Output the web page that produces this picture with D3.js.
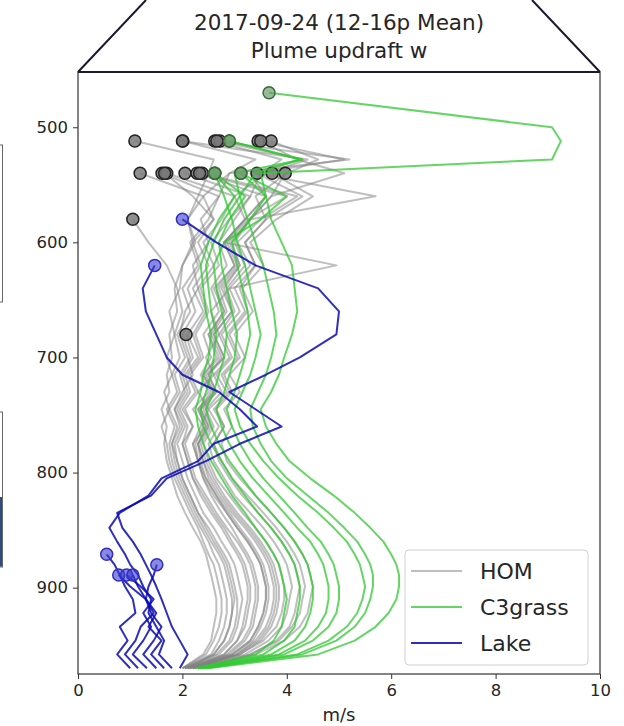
<!DOCTYPE html>
<html>
<head>
<meta charset="utf-8">
<script src="https://cdn.jsdelivr.net/npm/d3@7"></script>
<style>
  body { margin: 0; background: #fff; }
  text { font-family: "DejaVu Sans", sans-serif; fill: #262626; }
</style>
</head>
<body>
<svg id="chart" width="624" height="726"></svg>
<script>
// pressure levels (hPa), bottom of profile first
var levels = [970, 958, 946, 934, 922, 910, 899, 889, 880, 871, 860, 848, 835, 820, 805, 790, 775, 760,
              745, 730, 715, 700, 680, 660, 640, 620, 600, 580, 560, 540, 528, 512, 500, 470];

// plume updraft w (m/s) per level; last value is the plume top (marker)
var homProfiles = [
  [2.0, 2.4, 2.55, 2.6, 2.65, 2.65, 2.6, 2.55, 2.5, 2.45, 2.35, 2.2, 2.05, 1.9, 1.8, 1.7, 1.65, 1.7, 1.6, 1.75, 1.7, 1.8, 1.75, 1.9, 1.85, 2.0, 2.2, 2.1, 2.3, 2.5, 2.6, 1.09],
  [2.05, 2.6, 2.8, 2.9, 2.95, 2.95, 2.9, 2.85, 2.8, 2.7, 2.55, 2.4, 2.25, 2.1, 1.95, 1.85, 1.8, 1.95, 1.85, 2.0, 2.2, 2.1, 1.95, 2.05, 2.3, 2.2, 2.5, 2.35, 2.7, 2.9, 3.4, 2.01],
  [2.1, 2.8, 3.05, 3.15, 3.2, 3.25, 3.25, 3.2, 3.15, 3.05, 2.9, 2.75, 2.55, 2.35, 2.2, 2.1, 2.0, 2.2, 2.05, 2.3, 2.15, 2.4, 2.25, 2.5, 2.35, 2.7, 2.55, 2.9, 3.3, 3.5, 3.9, 2.62],
  [2.15, 2.95, 3.3, 3.45, 3.55, 3.6, 3.6, 3.55, 3.5, 3.4, 3.25, 3.05, 2.85, 2.6, 2.4, 2.3, 2.2, 2.35, 2.5, 2.3, 2.6, 2.45, 2.7, 2.55, 2.9, 4.95, 2.8, 3.2, 3.6, 3.3, 4.3, 2.72],
  [2.2, 3.1, 3.55, 3.8, 3.9, 3.95, 3.95, 3.9, 3.85, 3.75, 3.6, 3.4, 3.15, 2.9, 2.65, 2.5, 2.4, 2.6, 2.45, 2.75, 2.6, 2.9, 2.7, 3.0, 2.85, 3.2, 3.0, 3.3, 5.7, 3.4, 5.1, 3.45],
  [2.3, 3.3, 3.85, 4.1, 4.25, 4.3, 4.35, 4.3, 4.25, 4.15, 4.0, 3.8, 3.55, 3.25, 2.95, 2.75, 2.6, 2.8, 2.65, 2.95, 2.8, 3.1, 2.9, 3.25, 3.1, 3.4, 3.2, 3.6, 3.4, 4.0, 4.6, 3.7],
  [2.0, 2.45, 2.6, 2.7, 2.75, 2.75, 2.7, 2.65, 2.6, 2.5, 2.4, 2.3, 2.15, 2.0, 1.85, 1.75, 1.7, 1.6, 1.75, 1.65, 1.8, 1.7, 1.85, 1.75, 1.95, 2.0, 2.25, 2.1, 2.4, 1.19],
  [2.05, 2.65, 2.9, 3.0, 3.05, 3.05, 3.0, 2.95, 2.9, 2.8, 2.65, 2.5, 2.3, 2.15, 2.0, 1.9, 1.8, 1.9, 1.75, 1.95, 1.85, 2.05, 1.9, 2.15, 2.0, 2.3, 2.15, 2.5, 2.7, 1.61],
  [2.1, 2.85, 3.15, 3.3, 3.35, 3.4, 3.4, 3.35, 3.3, 3.2, 3.05, 2.85, 2.65, 2.45, 2.25, 2.15, 2.05, 2.2, 2.0, 2.25, 2.1, 2.35, 2.2, 2.45, 2.3, 2.6, 2.4, 2.75, 3.0, 1.7],
  [2.15, 3.0, 3.35, 3.5, 3.6, 3.65, 3.65, 3.6, 3.55, 3.45, 3.3, 3.1, 2.9, 2.65, 2.45, 2.3, 2.25, 2.4, 2.2, 2.5, 2.35, 2.55, 2.4, 2.7, 2.55, 2.85, 2.7, 3.0, 3.3, 2.05],
  [2.2, 3.05, 3.45, 3.65, 3.75, 3.8, 3.8, 3.75, 3.7, 3.6, 3.45, 3.25, 3.0, 2.75, 2.55, 2.4, 2.3, 2.5, 2.35, 2.6, 2.4, 2.7, 2.5, 2.8, 2.65, 3.0, 2.8, 3.2, 3.6, 2.28],
  [2.25, 3.2, 3.65, 3.9, 4.0, 4.05, 4.1, 4.05, 4.0, 3.9, 3.75, 3.55, 3.3, 3.0, 2.8, 2.6, 2.5, 2.7, 2.5, 2.85, 2.65, 2.95, 2.75, 3.1, 2.9, 3.3, 3.05, 3.5, 4.2, 2.38],
  [2.3, 3.3, 3.8, 4.05, 4.15, 4.2, 4.25, 4.2, 4.15, 4.05, 3.9, 3.7, 3.45, 3.15, 2.9, 2.7, 2.6, 2.8, 2.6, 2.9, 2.75, 3.05, 2.85, 3.2, 3.0, 3.4, 3.2, 3.6, 4.3, 3.43],
  [2.35, 3.4, 3.95, 4.25, 4.4, 4.45, 4.5, 4.45, 4.4, 4.3, 4.15, 3.95, 3.7, 3.4, 3.1, 2.85, 2.75, 2.95, 2.8, 3.1, 2.9, 3.2, 3.0, 3.35, 3.15, 3.55, 3.3, 3.8, 4.5, 3.72],
  [2.1, 2.9, 3.2, 3.35, 3.4, 3.45, 3.45, 3.4, 3.35, 3.25, 3.1, 2.95, 2.75, 2.55, 2.4, 2.3, 2.2, 2.45, 2.3, 2.6, 2.45, 2.8, 2.6, 2.95, 2.8, 3.1, 2.95, 3.3, 3.7, 3.97],
  [2.0, 2.55, 2.7, 2.8, 2.85, 2.85, 2.8, 2.75, 2.7, 2.6, 2.5, 2.35, 2.2, 2.05, 1.9, 1.8, 1.75, 1.85, 1.7, 1.9, 1.8, 1.95, 1.85, 2.0, 1.9, 1.7, 1.35, 1.05],
  [2.05, 2.7, 2.95, 3.05, 3.1, 3.15, 3.1, 3.05, 3.0, 2.9, 2.75, 2.6, 2.4, 2.25, 2.1, 2.0, 1.9, 2.05, 1.9, 2.1, 2.0, 2.2, 2.07],
  [2.1, 2.8, 3.05, 3.2, 3.25, 3.3, 3.3, 3.25, 3.2, 3.1, 2.95, 2.8, 2.6, 2.4, 2.2, 2.1, 2.0, 2.1, 1.95, 2.15, 2.05, 2.3, 2.1, 2.4, 2.2, 2.5, 2.3, 2.6, 2.2, 1.66],
  [2.2, 3.1, 3.5, 3.7, 3.8, 3.85, 3.85, 3.8, 3.75, 3.65, 3.5, 3.3, 3.05, 2.8, 2.6, 2.45, 2.35, 2.55, 2.4, 2.65, 2.5, 2.75, 2.55, 2.85, 2.7, 3.05, 2.85, 3.25, 4.0, 2.33],
  [2.05, 2.6, 2.8, 2.9, 2.95, 3.0, 2.95, 2.9, 2.85, 2.75, 2.6, 2.45, 2.3, 2.15, 2.0, 1.9, 1.85, 2.0, 1.85, 2.05, 1.95, 2.15, 2.0, 2.25, 2.1, 2.35, 2.2, 2.6, 2.4, 2.9, 5.2, 2.66],
  [2.15, 2.95, 3.3, 3.45, 3.55, 3.6, 3.6, 3.55, 3.5, 3.4, 3.25, 3.05, 2.85, 2.65, 2.45, 2.35, 2.3, 2.5, 2.35, 2.65, 2.5, 2.8, 2.6, 2.95, 2.75, 3.1, 2.9, 3.3, 3.7, 5.1, 4.2, 3.5],
  [2.2, 3.05, 3.4, 3.6, 3.7, 3.75, 3.75, 3.7, 3.65, 3.55, 3.4, 3.2, 2.95, 2.7, 2.5, 2.4, 2.3, 2.45, 2.3, 2.55, 2.4, 2.65, 2.5, 2.8, 2.6, 3.0, 2.8, 3.2, 3.0, 3.6, 4.4, 2.0]
];

var grassProfiles = [
  [2.5, 4.6, 5.3, 5.7, 5.95, 6.1, 6.15, 6.15, 6.1, 6.0, 5.85, 5.6, 5.3, 4.9, 4.45, 4.05, 3.8, 3.6, 3.5, 3.7, 3.85, 3.95, 4.1, 4.2, 4.15, 4.1, 3.9, 3.7, 3.6, 3.5, 9.08, 9.25, 9.08, 3.66],
  [2.45, 4.3, 4.95, 5.3, 5.5, 5.6, 5.65, 5.65, 5.6, 5.5, 5.35, 5.1, 4.8, 4.4, 4.0, 3.7, 3.5, 3.35, 3.3, 3.45, 3.6, 3.7, 3.8, 3.75, 3.65, 3.55, 3.4, 3.25, 3.1, 3.0, 4.3, 2.9],
  [2.4, 4.2, 4.8, 5.15, 5.35, 5.45, 5.5, 5.45, 5.4, 5.3, 5.15, 4.9, 4.6, 4.2, 3.85, 3.55, 3.3, 3.1, 3.0, 3.15, 3.3, 3.4, 3.5, 3.4, 3.3, 3.2, 3.05, 2.95, 2.8, 2.62],
  [2.35, 3.95, 4.5, 4.8, 4.95, 5.0, 5.0, 4.95, 4.9, 4.8, 4.65, 4.4, 4.15, 3.85, 3.55, 3.3, 3.1, 2.95, 2.85, 3.0, 3.1, 3.2, 3.3, 3.25, 3.15, 3.05, 2.95, 3.3, 3.6, 3.12],
  [2.35, 3.85, 4.35, 4.6, 4.75, 4.8, 4.8, 4.75, 4.7, 4.6, 4.45, 4.2, 3.95, 3.65, 3.35, 3.1, 2.9, 2.75, 2.65, 2.8, 2.9, 3.0, 3.05, 2.95, 2.85, 2.75, 2.7, 2.9, 3.2, 2.62],
  [2.3, 3.7, 4.15, 4.35, 4.45, 4.5, 4.5, 4.45, 4.4, 4.3, 4.15, 3.95, 3.7, 3.4, 3.15, 2.9, 2.7, 2.55, 2.45, 2.6, 2.7, 2.8, 2.85, 2.75, 2.65, 2.6, 2.8, 3.5, 4.0, 3.12],
  [2.3, 3.55, 3.95, 4.15, 4.2, 4.25, 4.25, 4.2, 4.15, 4.05, 3.9, 3.7, 3.45, 3.2, 2.95, 2.75, 2.55, 2.4, 2.35, 2.45, 2.55, 2.6, 2.65, 2.55, 2.5, 2.45, 2.6, 2.8, 3.1, 3.4, 4.25, 2.9],
  [2.25, 3.4, 3.75, 3.9, 3.95, 4.0, 3.95, 3.9, 3.85, 3.75, 3.6, 3.4, 3.2, 2.95, 2.75, 2.55, 2.4, 2.3, 2.25, 2.35, 2.4, 2.5, 2.55, 2.45, 2.4, 2.35, 2.5, 2.7, 3.0, 2.62]
];

var lakeProfiles = [
  [1.95, 2.1, 1.95, 1.8, 1.7, 1.6, 1.5, 1.4, 1.3, 1.2, 1.05, 0.85, 0.75, 1.4, 1.7, 2.45, 3.1, 3.9, 3.4, 2.9, 3.6, 4.25, 4.95, 5.0, 4.6, 3.4, 2.65, 2.0],
  [1.8, 1.55, 1.65, 1.5, 1.35, 1.4, 1.25, 1.15, 1.0, 0.9, 0.75, 0.6, 0.8, 1.35, 1.6, 2.3, 2.6, 3.43, 3.1, 2.7, 2.0, 1.7, 1.5, 1.3, 1.24, 1.47],
  [1.0, 0.75, 0.95, 0.8, 1.1, 1.05, 0.9, 0.8, 0.7, 0.55],
  [1.15, 0.9, 1.1, 1.2, 1.45, 1.3, 1.0, 0.78],
  [1.32, 1.05, 1.25, 1.4, 1.25, 1.45, 1.2, 0.93],
  [1.5, 1.25, 1.45, 1.6, 1.4, 1.3, 1.35, 1.45, 1.51],
  [1.65, 1.4, 1.6, 1.35, 1.5, 1.3, 1.15, 1.05]
];

var seriesNames = ["HOM", "C3grass", "Lake"];
var xTicks = [0, 2, 4, 6, 8, 10];
var yTicks = [500, 600, 700, 800, 900];
var titleLines = ["2017-09-24 (12-16p Mean)", "Plume updraft w"];

var colourHom = "#808080";
var colourGrass = "#32c832";
var colourLake = "#0a0ab4";

var svg = d3.select("#chart"),
  margin = {top: 72, left: 78, right: 24, bottom: 52},
  width = +svg.attr("width") - margin.left - margin.right,
  height = +svg.attr("height") - margin.top - margin.bottom;

// neighbouring panels peeking in at the left edge
svg.append("rect").attr("x", -10).attr("y", 145).attr("width", 12.5).attr("height", 157)
    .attr("fill", "#fff").attr("stroke", "#666").attr("stroke-width", 1);
svg.append("rect").attr("x", -10).attr("y", 412).attr("width", 12.5).attr("height", 155)
    .attr("fill", "#fff").attr("stroke", "#666").attr("stroke-width", 1);
svg.append("rect").attr("x", -10).attr("y", 497).attr("width", 12).attr("height", 69.5)
    .attr("fill", "#2c4d7e");

// the trapezoid outline round the title
svg.append("path")
    .attr("d", "M" + margin.left + "," + margin.top + " L146,0 M" + (margin.left + width) + "," + margin.top + " L532,0")
    .attr("stroke", "#1a1a2e").attr("stroke-width", 2).attr("fill", "none");

var g = svg.append("g")
    .attr("transform", "translate(" + margin.left + "," + margin.top + ")");

var x = d3.scaleLinear().domain([0, 10]).range([0, width]);
var y = d3.scaleLinear().domain([452, 975]).range([0, height]);

var line = d3.line()
    .x(function(d) { return x(d[0]); })
    .y(function(d) { return y(d[1]); });

function toPoints(profile) {
  return profile.map(function(w, i) { return [w, levels[i]]; });
}

var plot = g.append("g");

function drawSeries(profiles, colour, opacity, dotFill, dotStroke, dotOpacity) {
  var grp = plot.append("g");
  grp.selectAll("path")
    .data(profiles)
    .enter().append("path")
      .attr("d", function(d) { return line(toPoints(d)); })
      .attr("fill", "none")
      .attr("stroke", colour)
      .attr("stroke-opacity", opacity)
      .attr("stroke-width", 2)
      .attr("stroke-linejoin", "round");
  grp.selectAll("circle")
    .data(profiles)
    .enter().append("circle")
      .attr("cx", function(d) { return x(d[d.length - 1]); })
      .attr("cy", function(d) { return y(levels[d.length - 1]); })
      .attr("r", 6)
      .attr("fill", dotFill)
      .attr("fill-opacity", dotOpacity)
      .attr("stroke", dotStroke)
      .attr("stroke-width", 1.5);
}

drawSeries(homProfiles, colourHom, 0.5, "#7a7a7a", "#222", 0.85);
drawSeries(grassProfiles, colourGrass, 0.75, "#6a9e6a", "#3a6a3a", 0.7);
drawSeries(lakeProfiles, colourLake, 0.85, "#3a3ad0", "#3030c0", 0.6);

// frame
g.append("rect").attr("width", width).attr("height", height)
    .attr("fill", "none").attr("stroke", "#333").attr("stroke-width", 1.2);
g.append("line").attr("x1", 0).attr("x2", width).attr("y1", 0).attr("y2", 0)
    .attr("stroke", "#1a1a2e").attr("stroke-width", 2);

var xAxis = g.append("g")
    .attr("transform", "translate(0," + height + ")")
    .call(d3.axisBottom(x).tickValues(xTicks).tickSize(5).tickPadding(5).tickFormat(d3.format("d")));
var yAxis = g.append("g")
    .call(d3.axisLeft(y).tickValues(yTicks).tickSize(5).tickPadding(5));
[xAxis, yAxis].forEach(function(a) {
  a.select(".domain").remove();
  a.selectAll("line").attr("stroke", "#333");
  a.selectAll("text").style("font-family", '"DejaVu Sans", sans-serif').style("font-size", "16.5px").attr("fill", "#333");
});

g.append("text")
    .attr("x", width / 2).attr("y", height + 47)
    .attr("text-anchor", "middle").style("font-size", "18px")
    .text("m/s");

svg.selectAll(".title")
    .data(titleLines)
    .enter().append("text")
      .attr("class", "title")
      .attr("x", margin.left + width / 2)
      .attr("y", function(d, i) { return 30 + i * 28; })
      .attr("text-anchor", "middle")
      .style("font-size", "21.5px")
      .text(function(d) { return d; });

// legend
var legendColours = [colourHom, colourGrass, colourLake];
var legendOpacity = [0.5, 0.75, 0.85];
var legend = g.append("g").attr("transform", "translate(" + (width - 195) + "," + (height - 124) + ")");
legend.append("rect").attr("width", 183).attr("height", 115).attr("rx", 4)
    .attr("fill", "#fff").attr("fill-opacity", 0.8).attr("stroke", "#d0d0d0");
var item = legend.selectAll(".item")
    .data(seriesNames)
    .enter().append("g")
      .attr("class", "item")
      .attr("transform", function(d, i) { return "translate(0," + (21 + i * 36) + ")"; });
item.append("line")
    .attr("x1", 6).attr("x2", 57)
    .attr("stroke", function(d, i) { return legendColours[i]; })
    .attr("stroke-opacity", function(d, i) { return legendOpacity[i]; })
    .attr("stroke-width", 2);
item.append("text")
    .attr("x", 75).attr("y", 8)
    .style("font-size", "22px")
    .text(function(d) { return d; });
</script>
</body>
</html>
